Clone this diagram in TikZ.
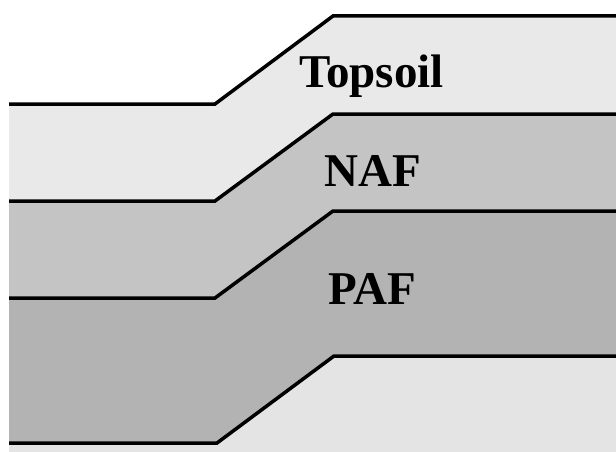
\documentclass[tikz,border=0pt]{standalone}
\usepackage{fontspec}
\setmainfont{Liberation Serif}
\begin{document}
\begin{tikzpicture}[x=1pt,y=-1pt,
  bnd/.style={draw=black,line width=3.5pt,line join=miter},
  lbl/.style={font=\bfseries\fontsize{47}{47}\selectfont,inner sep=0pt,anchor=base}]
\useasboundingbox (0,0) rectangle (616,452);
\fill[white] (0,0) rectangle (616,452);
% layers
\fill[fill={rgb,255:red,233;green,233;blue,233}] (9,104) -- (215,104) -- (333,16) -- (616,16) -- (616,114) -- (333,114) -- (215,201) -- (9,201) -- cycle;
\fill[fill={rgb,255:red,196;green,196;blue,196}] (9,201) -- (215,201) -- (333,114) -- (616,114) -- (616,211) -- (333,211) -- (215,298) -- (9,298) -- cycle;
\fill[fill={rgb,255:red,179;green,179;blue,179}] (9,298) -- (215,298) -- (333,211) -- (616,211) -- (616,356) -- (334,356) -- (217,443) -- (9,443) -- cycle;
\fill[fill={rgb,255:red,228;green,228;blue,228}] (9,443) -- (217,443) -- (334,356) -- (616,356) -- (616,452) -- (9,452) -- cycle;
% boundaries
\coordinate (a1) at (9,104);  \coordinate (b1) at (215,104); \coordinate (c1) at (333,16);  \coordinate (d1) at (620,16);
\coordinate (a2) at (9,201);  \coordinate (b2) at (215,201); \coordinate (c2) at (333,114); \coordinate (d2) at (620,114);
\coordinate (a3) at (9,298);  \coordinate (b3) at (215,298); \coordinate (c3) at (333,211); \coordinate (d3) at (620,211);
\coordinate (a4) at (9,443);  \coordinate (b4) at (217,443); \coordinate (c4) at (334,356); \coordinate (d4) at (620,356);
\draw[bnd] (a1) -- (b1) -- (c1) -- (d1);
\draw[bnd] (a2) -- (b2) -- (c2) -- (d2);
\draw[bnd] (a3) -- (b3) -- (c3) -- (d3);
\draw[bnd] (a4) -- (b4) -- (c4) -- (d4);
% labels
\node[lbl] (topsoil) at (371.5,88) {Topsoil};
\node[lbl] (naf) at (373,186) {NAF};
\node[lbl] (paf) at (372,304) {PAF};
\end{tikzpicture}
\end{document}
